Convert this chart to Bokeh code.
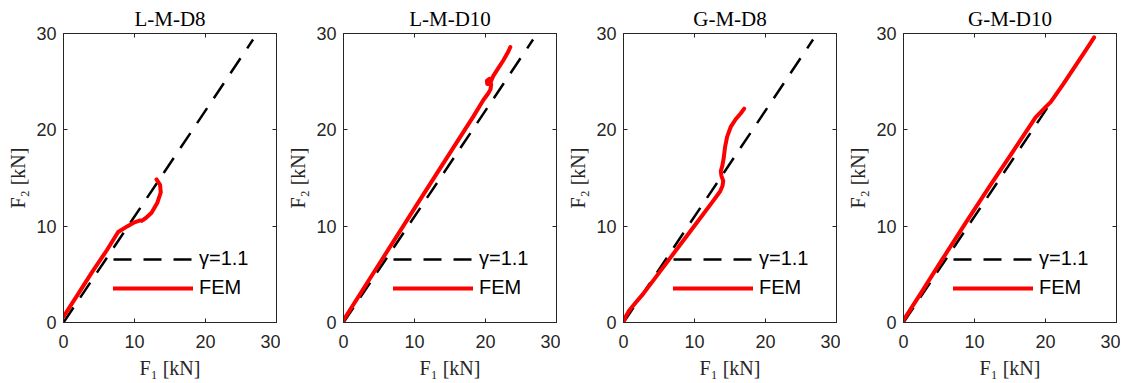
from bokeh.plotting import figure
from bokeh.layouts import row
from bokeh.models import Range1d, FixedTicker, LinearAxis
from bokeh.embed import file_html
from bokeh.resources import INLINE

# ---------------- data ----------------
titles = ["L-M-D8", "L-M-D10", "G-M-D8", "G-M-D10"]
tick_values = [0, 10, 20, 30]
x_label = "F₁ [kN]"
y_label = "F₂ [kN]"

# reference line gamma = 1.1
gamma_F1 = [0.0, 26.7]
gamma_F2 = [0.0, 29.37]

# FEM curves (F1, F2 in kN)
fem_LMD8_F1 = [0.0, 2.0, 4.0, 6.1, 7.7, 8.9, 10.0, 10.8, 11.0, 11.6, 12.4, 13.2, 13.7, 13.6, 13.1]
fem_LMD8_F2 = [0.6, 2.9, 5.2, 7.5, 9.4, 9.95, 10.4, 10.6, 10.55, 10.85, 11.4, 12.4, 13.5, 14.3, 14.85]

fem_LMD10_F1 = [0.0, 5.0, 10.0, 15.0, 18.3, 19.7, 20.4, 20.7, 20.8, 20.6, 20.2, 20.25, 20.6, 21.1, 21.8, 22.5, 23.2, 23.5]
fem_LMD10_F2 = [0.25, 6.05, 11.85, 17.6, 21.4, 23.1, 23.8, 24.2, 24.7, 25.3, 25.1, 24.75, 24.75, 25.6, 26.4, 27.2, 28.1, 28.6]

fem_GMD8_F1 = [0.0, 0.3, 0.8, 1.7, 2.8, 5.0, 7.5, 10.0, 12.5, 13.6, 13.95, 14.05, 13.8, 13.7, 13.9, 14.1, 14.3, 14.6, 15.1, 15.8, 16.5, 17.0]
fem_GMD8_F2 = [0.05, 0.6, 1.25, 2.05, 3.0, 5.15, 7.6, 10.05, 12.5, 13.6, 14.2, 14.7, 15.2, 15.7, 16.2, 17.0, 18.2, 19.3, 20.3, 21.1, 21.7, 22.2]

fem_GMD10_F1 = [0.0, 2.5, 5.5, 8.8, 12.1, 15.5, 18.6, 19.8, 20.75, 22.5, 24.3, 25.8, 26.85]
fem_GMD10_F2 = [0.25, 3.1, 6.6, 10.4, 14.1, 17.85, 21.3, 22.2, 22.9, 24.75, 26.75, 28.4, 29.6]

fem_F1 = [fem_LMD8_F1, fem_LMD10_F1, fem_GMD8_F1, fem_GMD10_F1]
fem_F2 = [fem_LMD8_F2, fem_LMD10_F2, fem_GMD8_F2, fem_GMD10_F2]

# ---------------- styling ----------------
AX = "#262626"
SERIF = "Liberation Serif"
SANS = "Liberation Sans"


def make_panel(title, f1, f2):
    p = figure(width=280, height=383, output_backend="svg", toolbar_location=None,
               x_range=Range1d(0, 30), y_range=Range1d(0, 30),
               min_border_left=63, min_border_right=4, min_border_top=33, min_border_bottom=61,
               background_fill_color="white", border_fill_color="white")
    p.grid.visible = False
    p.outline_line_color = AX
    p.outline_line_width = 1

    p.title.text = title
    p.title.text_font = SERIF
    p.title.text_font_size = "21px"
    p.title.text_font_style = "normal"
    p.title.text_color = "black"
    p.title.align = "center"
    p.title.standoff = 5

    for ax in (p.xaxis[0], p.yaxis[0]):
        ax.ticker = FixedTicker(ticks=tick_values)
        ax.minor_tick_line_color = None
        ax.major_tick_in = 4
        ax.major_tick_out = 0
        ax.axis_line_color = AX
        ax.major_tick_line_color = AX
        ax.major_label_text_font = SANS
        ax.major_label_text_font_size = "18px"
        ax.major_label_text_color = AX
        ax.axis_label_text_font = SERIF
        ax.axis_label_text_font_size = "20px"
        ax.axis_label_text_font_style = "normal"
        ax.axis_label_text_color = AX
    p.xaxis[0].major_label_standoff = 12
    p.yaxis[0].major_label_standoff = 7
    p.xaxis[0].axis_label = x_label
    p.yaxis[0].axis_label = y_label
    p.xaxis[0].axis_label_standoff = 6
    p.yaxis[0].axis_label_standoff = 4

    # box ticks on top and right
    for loc in ("right", "above"):
        ax = LinearAxis(ticker=FixedTicker(ticks=tick_values))
        ax.minor_tick_line_color = None
        ax.major_tick_in = 4
        ax.major_tick_out = 0
        ax.axis_line_color = AX
        ax.major_tick_line_color = AX
        ax.major_label_text_font_size = "0px"
        ax.major_label_standoff = 0
        ax.major_label_overrides = {0: "", 10: "", 20: "", 30: ""}
        p.add_layout(ax, loc)

    p.line(gamma_F1, gamma_F2, line_color="black", line_width=2.5, line_dash="18 12",
           legend_label="γ=1.1")
    p.line(f1, f2, line_color="#ff0000", line_width=4, line_join="round", line_cap="round",
           legend_label="FEM")

    lg = p.legend[0]
    lg.location = (50, 23)
    lg.border_line_color = None
    lg.background_fill_alpha = 0
    lg.padding = 0
    lg.margin = 0
    lg.glyph_width = 80
    lg.glyph_height = 20
    lg.label_height = 20
    lg.spacing = 6
    lg.label_standoff = 6
    lg.label_text_font = SANS
    lg.label_text_font_size = "20px"
    lg.label_text_color = "black"
    return p


panels = [make_panel(t, a, b) for t, a, b in zip(titles, fem_F1, fem_F2)]
layout = row(*panels)

with open("out.html", "w") as f:
    f.write(file_html(layout, INLINE))
